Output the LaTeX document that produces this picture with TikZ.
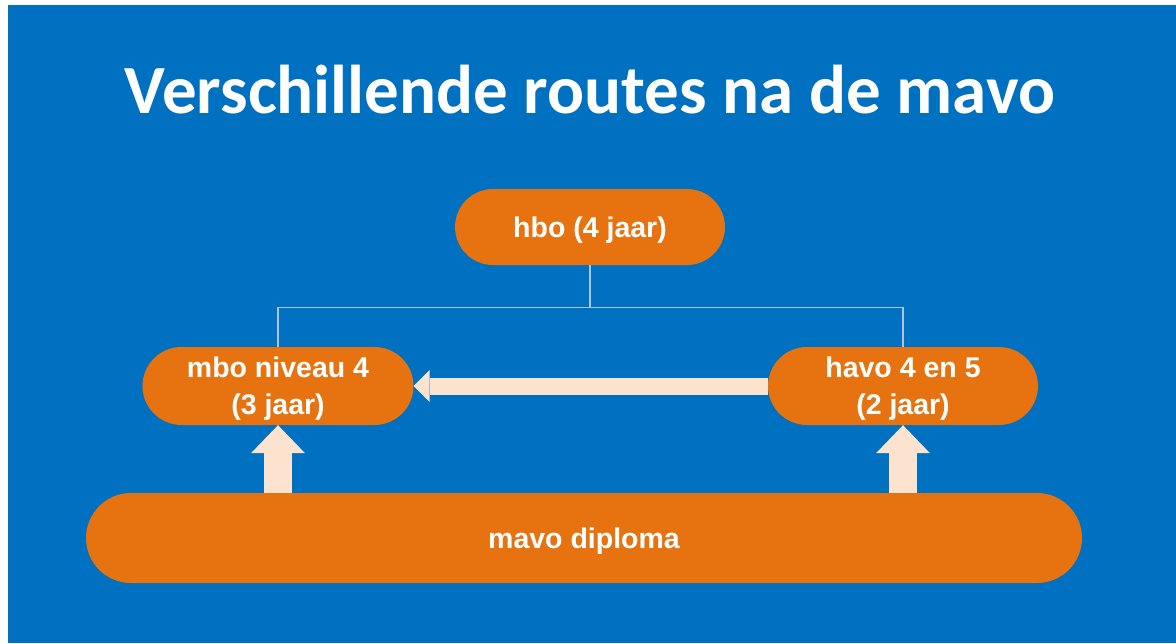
\documentclass[tikz,border=0pt]{standalone}
\usepackage{fontspec}
\setmainfont{Liberation Sans}
\newfontfamily\titlefont{Carlito}
\usetikzlibrary{shapes.misc,arrows.meta}
\definecolor{slideblue}{HTML}{0070C0}
\definecolor{routeorange}{HTML}{E6730F}
\definecolor{arrowpeach}{HTML}{FBE3D0}
\definecolor{linegrey}{HTML}{AFC3DC}

\begin{document}
\begin{tikzpicture}[x=1pt,y=-1pt,
    route/.style={rounded rectangle,fill=routeorange,text=white,inner sep=0pt,
      align=center,text depth=0pt,font=\fontsize{28.5}{37}\selectfont\bfseries},
    link/.style={linegrey,line width=1.2pt},
    sidearrow/.style={arrowpeach,line width=17pt,
      -{Triangle[width=32pt,length=16pt,line width=0pt]}},
    uparrow/.style={arrowpeach,line width=28pt,
      -{Triangle[width=54pt,length=28pt,line width=0pt]}}]
    % slide background
    \fill[white] (0,0) rectangle (1176,643);
    \fill[slideblue] (8,5) rectangle (1176,643);
    \node[anchor=base,text=white,font=\titlefont\bfseries\fontsize{69}{80}\selectfont]
      (title) at (590,113) {Verschillende routes na de mavo};
    % routes
    \node[route,minimum width=270pt,minimum height=76pt] (hbo) at (590,227) {hbo (4 jaar)};
    \node[route,minimum width=271pt,minimum height=78pt] (mbo) at (278,386) {mbo niveau 4\\(3 jaar)};
    \node[route,minimum width=270pt,minimum height=78pt] (havo) at (903,386) {havo 4 en 5\\(2 jaar)};
    \node[route,minimum width=996pt,minimum height=90pt] (mavo) at (584,538) {mavo diploma};
    % connections
    \draw[link] (hbo.south) -- ++(0,42) coordinate (split) -| (mbo.north);
    \draw[link] (split) -| (havo.north);
    \draw[sidearrow] (havo.west) -- (mbo.east);
    \draw[uparrow] (mbo.south |- mavo.north) -- (mbo.south);
    \draw[uparrow] (havo.south |- mavo.north) -- (havo.south);
\end{tikzpicture}
\end{document}
